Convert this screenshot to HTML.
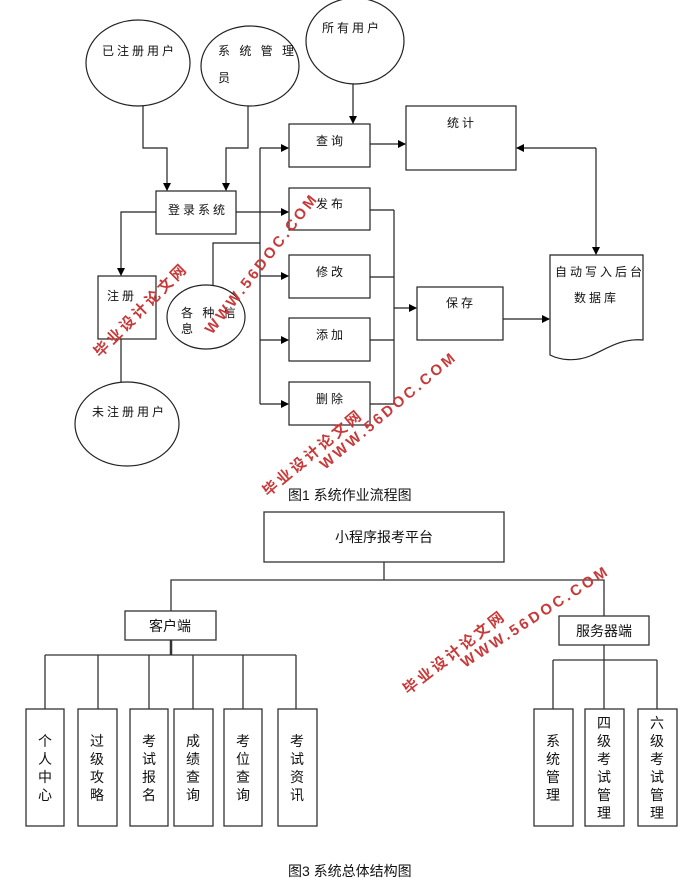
<!DOCTYPE html>
<html><head><meta charset="utf-8"><style>
body{margin:0;background:#fff}
svg{display:block}
text{font-family:"Liberation Sans","Noto Sans CJK SC",sans-serif;fill:#111}
.t{font-size:12px;letter-spacing:3px}
.b{font-size:14px}
.wm{font-family:"Liberation Sans","Noto Sans CJK SC",sans-serif;fill:#c83a3a;font-weight:bold;font-size:15px;letter-spacing:3px}
</style></head><body>
<svg width="700" height="888" viewBox="0 0 700 888" xmlns="http://www.w3.org/2000/svg">
<defs><marker id="a" markerWidth="8" markerHeight="8" refX="7" refY="4" orient="auto" markerUnits="userSpaceOnUse"><path d="M0,0 L8,4 L0,8z" fill="#000"/></marker></defs>
<g fill="none" stroke="#222" stroke-width="1.2">
<ellipse cx="138" cy="63" rx="52" ry="43"/>
<ellipse cx="250" cy="66" rx="49" ry="40"/>
<ellipse cx="355" cy="41" rx="49" ry="43"/>
<ellipse cx="127" cy="424" rx="52" ry="42"/>
<ellipse cx="206" cy="317" rx="39" ry="32"/>
<rect x="156" y="191" width="80" height="43"/>
<rect x="98" y="276" width="58" height="63"/>
<rect x="289" y="124" width="81" height="43"/>
<rect x="289" y="188" width="81" height="42"/>
<rect x="289" y="255" width="81" height="43"/>
<rect x="289" y="318" width="81" height="43"/>
<rect x="289" y="382" width="81" height="43"/>
<rect x="406" y="106" width="110" height="64"/>
<rect x="417" y="287" width="86" height="53"/>
<path d="M550,255 H643 V340 C620,338 605,350 590,356 C575,362 560,360 550,355 Z"/>
<polyline points="143,106 143,148 167,148 167,190" marker-end="url(#a)"/>
<polyline points="248,106 248,148 226,148 226,190" marker-end="url(#a)"/>
<polyline points="353,84 353,123" marker-end="url(#a)"/>
<polyline points="236,212 288,212" marker-end="url(#a)"/>
<polyline points="156,212 121,212 121,275" marker-end="url(#a)"/>
<line x1="121" y1="339" x2="121" y2="382"/>
<polyline points="213,285 213,243 260,243"/>
<line x1="260" y1="148" x2="260" y2="404"/>
<line x1="260" y1="148" x2="288" y2="148" marker-end="url(#a)"/>
<line x1="260" y1="276" x2="288" y2="276" marker-end="url(#a)"/>
<line x1="260" y1="340" x2="288" y2="340" marker-end="url(#a)"/>
<line x1="260" y1="404" x2="288" y2="404" marker-end="url(#a)"/>
<line x1="370" y1="144" x2="405" y2="144" marker-end="url(#a)"/>
<line x1="370" y1="210" x2="394" y2="210"/>
<line x1="370" y1="277" x2="394" y2="277"/>
<line x1="370" y1="340" x2="394" y2="340"/>
<line x1="370" y1="404" x2="394" y2="404"/>
<line x1="394" y1="210" x2="394" y2="404"/>
<line x1="394" y1="308" x2="416" y2="308" marker-end="url(#a)"/>
<line x1="503" y1="319" x2="549" y2="319" marker-end="url(#a)"/>
<polyline points="596,148 596,254" marker-end="url(#a)"/>
<polyline points="596,148 517,148" marker-end="url(#a)"/>
</g>
<g class="t">
<text x="102" y="55">已注册用户</text>
<text x="218" y="55">系 统 管 理</text>
<text x="218" y="82">员</text>
<text x="322" y="32">所有用户</text>
<text x="168" y="214">登录系统</text>
<text x="107" y="300">注册</text>
<text x="92" y="416">未注册用户</text>
<text x="181" y="317">各 种 信</text>
<text x="181" y="333">息</text>
<text x="316" y="145">查询</text>
<text x="316" y="208">发布</text>
<text x="316" y="276">修改</text>
<text x="316" y="339">添加</text>
<text x="316" y="403">删除</text>
<text x="447" y="127">统计</text>
<text x="446" y="307">保存</text>
<text x="555" y="276">自动写入后台</text>
<text x="574" y="302">数据库</text>
</g>
<text x="288" y="500" class="b">图1  系统作业流程图</text>

<g fill="none" stroke="#333" stroke-width="1.3">
<rect x="264" y="512" width="240" height="50"/>
<polyline points="384,562 384,580"/>
<polyline points="171,611 171,580 604,580 604,616"/>
<rect x="125" y="611" width="91" height="29"/>
<line x1="171" y1="640" x2="171" y2="655" stroke-width="2.5"/>
<line x1="45" y1="655" x2="296" y2="655"/>
<line x1="45" y1="655" x2="45" y2="709"/><line x1="98" y1="655" x2="98" y2="709"/>
<line x1="149" y1="655" x2="149" y2="709"/><line x1="193" y1="655" x2="193" y2="709"/>
<line x1="243" y1="655" x2="243" y2="709"/><line x1="296" y1="655" x2="296" y2="709"/>
<rect x="26" y="709" width="38" height="117"/><rect x="78" y="709" width="39" height="117"/>
<rect x="130" y="709" width="38" height="117"/><rect x="174" y="709" width="39" height="117"/>
<rect x="224" y="709" width="38" height="117"/><rect x="278" y="709" width="39" height="117"/>
<rect x="559" y="616" width="90" height="29"/>
<line x1="604" y1="645" x2="604" y2="660"/>
<line x1="553" y1="660" x2="657" y2="660"/>
<line x1="553" y1="660" x2="553" y2="709"/><line x1="604" y1="660" x2="604" y2="709"/><line x1="657" y1="660" x2="657" y2="709"/>
<rect x="534" y="709" width="39" height="117"/><rect x="585" y="709" width="39" height="117"/><rect x="638" y="709" width="39" height="117"/>
</g>
<g class="b" text-anchor="middle">
<text x="384" y="542">小程序报考平台</text>
<text x="170" y="631">客户端</text>
<text x="604" y="636">服务器端</text>
<text x="45" y="746">个</text><text x="45" y="764">人</text><text x="45" y="782">中</text><text x="45" y="800">心</text>
<text x="97" y="746">过</text><text x="97" y="764">级</text><text x="97" y="782">攻</text><text x="97" y="800">略</text>
<text x="149" y="746">考</text><text x="149" y="764">试</text><text x="149" y="782">报</text><text x="149" y="800">名</text>
<text x="193" y="746">成</text><text x="193" y="764">绩</text><text x="193" y="782">查</text><text x="193" y="800">询</text>
<text x="243" y="746">考</text><text x="243" y="764">位</text><text x="243" y="782">查</text><text x="243" y="800">询</text>
<text x="297" y="746">考</text><text x="297" y="764">试</text><text x="297" y="782">资</text><text x="297" y="800">讯</text>
<text x="553" y="746">系</text><text x="553" y="764">统</text><text x="553" y="782">管</text><text x="553" y="800">理</text>
<text x="604" y="728">四</text><text x="604" y="746">级</text><text x="604" y="764">考</text><text x="604" y="782">试</text><text x="604" y="800">管</text><text x="604" y="818">理</text>
<text x="657" y="728">六</text><text x="657" y="746">级</text><text x="657" y="764">考</text><text x="657" y="782">试</text><text x="657" y="800">管</text><text x="657" y="818">理</text>
</g>
<text x="288" y="876" class="b">图3  系统总体结构图</text>

<text class="wm" transform="translate(212,335) rotate(-52)">WWW.56DOC.COM</text>
<text class="wm" transform="translate(100,358) rotate(-45)">毕业设计论文网</text>
<text class="wm" transform="translate(325,470) rotate(-40)">WWW.56DOC.COM</text>
<text class="wm" transform="translate(268,497) rotate(-40)">毕业设计论文网</text>
<text class="wm" transform="translate(465,668) rotate(-33)">WWW.56DOC.COM</text>
<text class="wm" transform="translate(408,695) rotate(-38)">毕业设计论文网</text>
</svg>
</body></html>
